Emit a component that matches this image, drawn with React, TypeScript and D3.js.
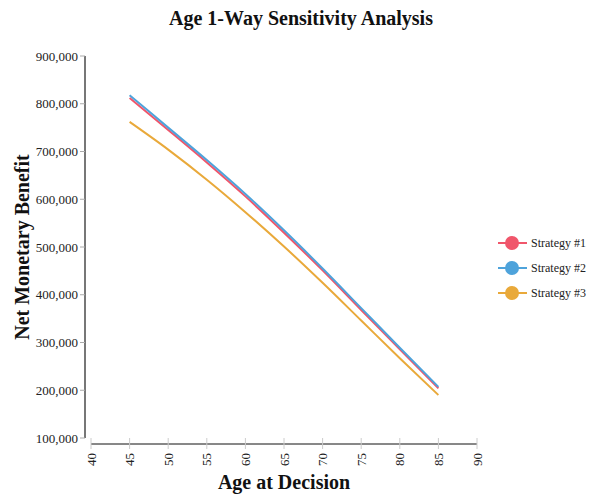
import React from "react";
import * as d3 from "d3";

const ages = [45, 50, 55, 60, 65, 70, 75, 80, 85];
const strategy1 = [812000, 745000, 677000, 606000, 530000, 451000, 368000, 286000, 204000];
const strategy2 = [818000, 750000, 682000, 611000, 535000, 455000, 372000, 289000, 207000];
const strategy3 = [762000, 704000, 641000, 573000, 501000, 425000, 346000, 267000, 190000];
const seriesNames = ["Strategy #1", "Strategy #2", "Strategy #3"];
const seriesColors = ["#f0566b", "#4ea3db", "#e9a93a"];
const xTicks = [40, 45, 50, 55, 60, 65, 70, 75, 80, 85, 90];
const yTicks = [100000, 200000, 300000, 400000, 500000, 600000, 700000, 800000, 900000];

export default function App() {
  const W = 602, H = 494;
  const x = d3.scaleLinear().domain([40, 90]).range([91, 477]);
  const y = d3.scaleLinear().domain([100000, 900000]).range([438, 56]);
  const series = [strategy1, strategy2, strategy3];
  const line = d3
    .line<number>()
    .x((_, i) => x(ages[i]))
    .y((d) => y(d))
    .curve(d3.curveMonotoneX);
  const fmt = d3.format(",");
  const font = "'Liberation Serif', 'Times New Roman', serif";
  const yAxisX = 85;
  const xAxisY = 444;
  return (
    <svg width={W} height={H} style={{ position: "absolute", left: 0, top: 0, fontFamily: font }}>
      <text x={301} y={25} textAnchor="middle" fontSize={20} fontWeight="bold" fill="#111">
        Age 1-Way Sensitivity Analysis
      </text>
      {/* y axis */}
      <line x1={yAxisX} x2={yAxisX} y1={y(900000)} y2={y(100000)} stroke="#777" strokeWidth={2} />
      {yTicks.map((t) => (
        <g key={t}>
          <line x1={yAxisX - 5} x2={yAxisX} y1={y(t)} y2={y(t)} stroke="#aaa" strokeWidth={1} />
          <text x={yAxisX - 7} y={y(t)} dy="0.35em" textAnchor="end" fontSize={13} fill="#222">
            {fmt(t)}
          </text>
        </g>
      ))}
      {/* x axis */}
      <line x1={x(40)} x2={x(90)} y1={xAxisY} y2={xAxisY} stroke="#111" strokeWidth={1} />
      {xTicks.map((t) => (
        <g key={t}>
          <line x1={x(t)} x2={x(t)} y1={xAxisY - 6} y2={xAxisY + 5} stroke="#ccc" strokeWidth={1} />
          <text
            transform={`translate(${x(t)},${xAxisY + 9}) rotate(-90)`}
            dy="0.35em"
            textAnchor="end"
            fontSize={13}
            fill="#222"
          >
            {t}
          </text>
        </g>
      ))}
      <text x={284} y={489} textAnchor="middle" fontSize={20} fontWeight="bold" fill="#111">
        Age at Decision
      </text>
      <text
        transform={`translate(29,247) rotate(-90)`}
        textAnchor="middle"
        fontSize={20}
        fontWeight="bold"
        fill="#111"
      >
        Net Monetary Benefit
      </text>
      {/* lines */}
      {series.map((s, i) => (
        <path key={i} d={line(s) || ""} fill="none" stroke={seriesColors[i]} strokeWidth={2} />
      ))}
      {/* legend */}
      {seriesNames.map((n, i) => {
        const ly = 243 + i * 25;
        return (
          <g key={n}>
            <line x1={498} x2={527} y1={ly} y2={ly} stroke={seriesColors[i]} strokeWidth={2} />
            <circle cx={512} cy={ly} r={7} fill={seriesColors[i]} />
            <text x={531} y={ly} dy="0.35em" fontSize={12} fill="#222">
              {n}
            </text>
          </g>
        );
      })}
    </svg>
  );
}
